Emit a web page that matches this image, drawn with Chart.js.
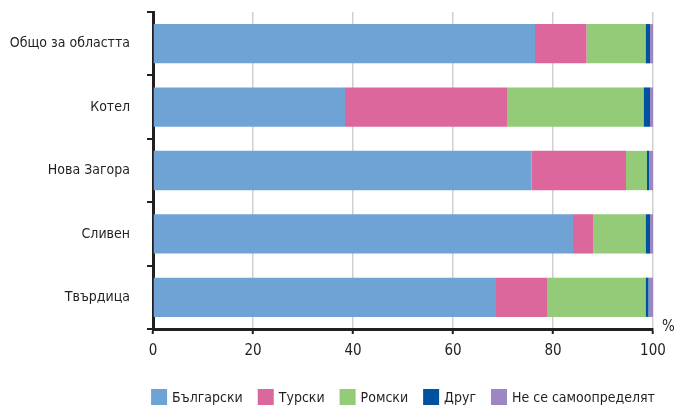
<!DOCTYPE html>
<html><head><meta charset="utf-8">
<script src="https://cdn.jsdelivr.net/npm/chart.js@4"></script>
<style>html,body{margin:0;padding:0;background:#fff}#w{width:674px;height:408px}</style>
</head><body><div id="w"><canvas id="c" width="674" height="408"></canvas></div>
<script>
const categories = ["Общо за областта", "Котел", "Нова Загора", "Сливен", "Твърдица"];
const seriesNames = ["Български", "Турски", "Ромски", "Друг", "Не се самоопределят"];
const bulgarian = [76.4, 38.4, 75.7, 84.0, 68.6];
const turkish   = [10.3, 32.4, 18.9, 4.1, 10.2];
const roma      = [11.8, 27.3, 4.2, 10.4, 19.7];
const other     = [0.9, 1.3, 0.4, 0.9, 0.6];
const undeclared= [0.6, 0.6, 0.8, 0.6, 0.9];
const xTicks = [0, 20, 40, 60, 80, 100];
const colors = ["#6fa3d6", "#dc679c", "#93cb78", "#0052a0", "#9d87c1"];

const FONT = "'Liberation Sans Narrow', 'DejaVu Sans Condensed', 'Roboto Condensed', sans-serif";
const TXT = "#231f20";
const values = [bulgarian, turkish, roma, other, undeclared];

const extras = {
  id: 'extras',
  afterDraw(chart) {
    const ctx = chart.ctx, a = chart.chartArea;
    ctx.save();
    ctx.fillStyle = TXT;
    ctx.font = "15px " + FONT;
    ctx.textBaseline = 'middle';
    ctx.textAlign = 'left';
    ctx.fillText('%', a.right + 9, a.bottom - 2);
    // legend
    ctx.font = "14px " + FONT;
    const box = 16, gapBT = 5, gapItems = 15;
    const widths = seriesNames.map(n => ctx.measureText(n).width);
    let total = widths.reduce((s, w) => s + box + gapBT + w, 0) + gapItems * (seriesNames.length - 1);
    let x = (a.left + a.right) / 2 - total / 2;
    const y = 397;
    seriesNames.forEach((n, i) => {
      ctx.fillStyle = colors[i];
      ctx.fillRect(x, y - box / 2, box, box);
      ctx.fillStyle = TXT;
      ctx.fillText(n, x + box + gapBT, y + 1);
      x += box + gapBT + widths[i] + gapItems;
    });
    ctx.restore();
  }
};

new Chart(document.getElementById('c'), {
  type: 'bar',
  data: {
    labels: categories,
    datasets: seriesNames.map((n, i) => ({
      label: n,
      data: values[i],
      backgroundColor: colors[i],
      borderWidth: 0,
      categoryPercentage: 1,
      barPercentage: 0.62
    }))
  },
  options: {
    indexAxis: 'y',
    responsive: false,
    animation: false,
    layout: { padding: { top: 12, right: 21, left: 0, bottom: 0 } },
    plugins: { legend: { display: false }, tooltip: { enabled: false } },
    scales: {
      x: {
        stacked: true, min: 0, max: 100,
        afterBuildTicks(s) { s.ticks = xTicks.map(v => ({ value: v })); },
        afterFit(s) { s.height = 79; s.paddingLeft = 0; s.paddingRight = 0; s.paddingTop = 0; s.paddingBottom = 0; },
        border: { display: true, color: TXT, width: 3 },
        grid: { color: '#d0d0d0', lineWidth: 1.5, tickColor: TXT, tickLength: 5, tickWidth: 2, drawOnChartArea: true },
        ticks: { color: TXT, font: { family: FONT, size: 15 }, padding: 8 }
      },
      y: {
        stacked: true,
        afterFit(s) { s.width = 153; s.paddingTop = 0; s.paddingBottom = 0; s.paddingLeft = 0; s.paddingRight = 0; },
        border: { display: true, color: TXT, width: 3 },
        grid: { offset: true, drawOnChartArea: false, color: TXT, tickColor: TXT, tickLength: 6, lineWidth: 2 },
        ticks: { color: TXT, font: { family: FONT, size: 14 }, padding: 17 }
      }
    }
  },
  plugins: [extras]
});
</script></body></html>
